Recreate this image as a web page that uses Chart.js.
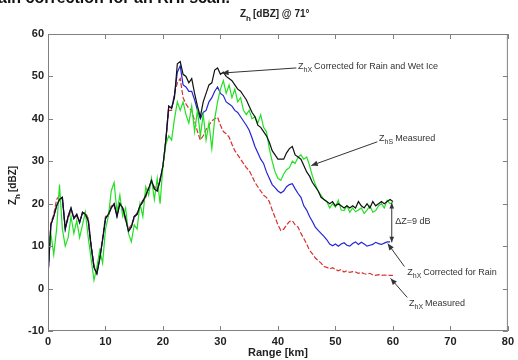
<!DOCTYPE html>
<html>
<head>
<meta charset="utf-8">
<script src="https://cdn.jsdelivr.net/npm/chart.js@4.4.1/dist/chart.umd.min.js"></script>
<style>
  body { margin: 0; background: #fff; }
  canvas { display: block; }
</style>
</head>
<body>
<canvas id="zhChart" width="518" height="360"></canvas>
<script>
// range grid in km (0.5 km steps)
const rangeKm = Array.from({ length: 121 }, (_, i) => i * 0.5);

// Zhx corrected for rain and wet ice (black)
const zhxRainIce = [
  3, 15, 17, 19.5, 21, 21.5, 14, 17, 19, 16.5, 17.5, 15.5, 18, 17.5, 16, 10, 5, 3.5, 7, 11.5,
  16.5, 17.5, 19, 20, 17, 20, 19, 16.5, 13.5, 14.5, 17, 17.5, 19.5, 20.5, 22, 23.5, 25.5, 23.5, 23, 25.5,
  29, 35, 43, 42.5, 45, 53, 53.5, 50.5, 50, 48.5, 49.5, 46, 43, 40.5, 44, 46, 48, 48.5, 51.5, 52,
  50.5, 51, 50, 49.5, 49, 48, 47, 46.5, 45.5, 44.5, 43, 41.5, 40.5, 38.5, 38, 37, 36, 34.5, 32.5, 31.5,
  30.5, 30.5, 30.5, 32, 33, 33.5, 31.5, 31, 30.5, 29, 27.5, 26.5, 25, 24, 23, 21.5, 21, 20.5, 20, 20.5,
  19.5, 20, 19.5, 19, 19.5, 19, 19.5, 19, 20.5, 19.5, 19, 20, 19, 20.5, 19.5, 20, 20.5, 20, 20.5, 21,
  20.5
];

// Zhx corrected for rain (blue)
const zhxRain = [
  3, 15, 17, 19.5, 21, 21.5, 14, 17, 19, 16.5, 17.5, 15.5, 18, 17.5, 16, 10, 5, 3.5, 7, 11.5,
  16.5, 17.5, 19, 20, 17, 20, 19, 16.5, 13.5, 14.5, 17, 17.5, 19.5, 20.5, 22, 23.5, 25.5, 23.5, 23, 25.5,
  29, 35, 43, 42.5, 45.5, 51, 52.5, 48, 47.5, 46.5, 46.5, 44.5, 42, 40, 41.5, 42, 44, 45, 46.5, 47.5,
  46, 45.5, 44, 43.5, 43, 42, 41.5, 40.5, 39.5, 38.5, 37.3, 35.5, 33.5, 32, 30.5, 29.5, 27.5, 26, 24.5, 23.8,
  23, 22.5, 23, 24, 24.5, 24.7, 23.5, 22.4, 21.5, 19.5, 18.5, 17, 15.8, 14.5, 13.7, 13, 12.3, 11.5, 10.5, 10.1,
  10.5, 10, 10.5, 10.8, 10.2, 10, 10.6, 11, 10.4, 10.9, 10.5, 10, 10.2, 10.4, 10.9, 10.6, 10.4, 10.7, 11, 11,
  null
];

// Zhx measured (red, dashed)
const zhxMeasured = [
  3, 15.5, 17.5, 21, 22, 21, 14.5, 16.5, 18.5, 17, 17, 16, 17.5, 18, 16.5, 10.5, 5.5, 4, 7.5, 12,
  17, 17, 19.5, 19.5, 17.5, 20.5, 18.5, 16, 14, 15, 16.5, 18, 19, 21, 21.5, 24, 25, 24, 23.5, 26,
  28.5, 35, 42, 42, 46, 48.5, 49.5, 45, 43.5, 42.5, 42, 39.5, 37, 35, 36, 37.5, 38.5, 39.5, 40, 40.4,
  38.5, 37, 36.5, 35.7, 34, 32.5, 31.5, 30.5, 29.5, 28.5, 27.8, 26.5, 25, 24, 23, 22, 21.5, 20.5, 18.5, 16.8,
  15, 13.7, 14, 15, 15.8, 16, 15, 14.5, 13, 11.8, 10.5, 9, 8.2, 7.2, 6.6, 6, 5.2, 5, 4.6, 4.9,
  4.5, 4.2, 4.5, 3.9, 4.2, 3.8, 4, 3.9, 3.6, 3.8, 3.5, 3.4, 3.6, 3.2, 3.1, 3.3, 3.1, 3.2, 3.1, 3.1,
  3.1
];

// Zhs measured (green)
const zhsMeasured = [
  6, 13, 8, 14, 24.5, 14, 10, 12, 17, 13, 16, 12, 15, 18, 12, 7, 2, 5, 9, 6,
  14, 17, 23, 25, 18, 22, 17, 19, 13, 11, 15, 14, 20, 17, 24, 22, 26, 21, 26, 20,
  29, 34, 36, 35, 40, 44, 42, 44, 41, 39, 43, 37, 42, 36, 41, 35, 39, 33, 40, 44,
  47, 49, 46, 48, 45, 47, 44, 45, 42, 41, 42, 40, 40.5, 39, 41, 38, 37, 33, 30, 27.5,
  26, 25.5, 27, 28, 28.5, 30, 29.5, 31, 31.5, 30.5, 31, 29, 26.5, 24.5, 23, 22, 21, 20.5, 19, 20,
  19.2, 20.8, 18.5, 18.4, 19.5, 18, 19, 18.1, 18.5, 19, 17.7, 18.5, 19.5, 18, 18.4, 19.5, 20, 19, 20.8, 20,
  20.4
];

const xTicks = [0, 10, 20, 30, 40, 50, 60, 70, 80];
const yTicks = [-10, 0, 10, 20, 30, 40, 50, 60];

function toPoints(vals) {
  return vals.map((v, i) => ({ x: rangeKm[i], y: v }));
}

const ink = '#333';

function arrowHead(ctx, x0, y0, x1, y1, size) {
  const ang = Math.atan2(y1 - y0, x1 - x0);
  ctx.beginPath();
  ctx.moveTo(x1, y1);
  ctx.lineTo(x1 - size * Math.cos(ang - 0.4), y1 - size * Math.sin(ang - 0.4));
  ctx.lineTo(x1 - size * Math.cos(ang + 0.4), y1 - size * Math.sin(ang + 0.4));
  ctx.closePath();
  ctx.fill();
}

// text with a subscript: Z + sub + rest
function subText(ctx, x, y, main, sub, rest, size, bold) {
  const w = bold ? 'bold ' : '';
  ctx.font = w + size + 'px Arial, "Liberation Sans", sans-serif';
  ctx.fillText(main, x, y);
  let cx = x + ctx.measureText(main).width;
  ctx.font = w + Math.round(size * 0.8) + 'px Arial, "Liberation Sans", sans-serif';
  ctx.fillText(sub, cx, y + size * 0.35);
  cx += ctx.measureText(sub).width + 2;
  ctx.font = w + size + 'px Arial, "Liberation Sans", sans-serif';
  ctx.fillText(rest, cx, y);
}

// labelled arrows, positioned in data units (km, dBZ)
const notes = [
  { main: 'Z', sub: 'hX', rest: 'Corrected for Rain and Wet Ice', at: [43.5, 51.7], from: [43.2, 52.0], to: [30.3, 50.8] },
  { main: 'Z', sub: 'hS', rest: 'Measured', at: [57.6, 34.8], from: [57.3, 34.6], to: [45.8, 29.0] },
  { main: 'Z', sub: 'hX', rest: 'Corrected for Rain', at: [62.5, 3.2], from: [62.0, 5.2], to: [59.1, 10.6] },
  { main: 'Z', sub: 'hX', rest: 'Measured', at: [62.8, -4.0], from: [62.5, -2.1], to: [59.6, 2.4] }
];

const decor = {
  id: 'decor',
  afterDraw(chart) {
    const { ctx, chartArea: a, scales: { x, y } } = chart;
    ctx.save();
    // frame with inward ticks
    ctx.strokeStyle = '#808080';
    ctx.lineWidth = 1;
    ctx.strokeRect(a.left + 0.5, a.top + 0.5, a.right - a.left - 1, a.bottom - a.top - 1);
    ctx.beginPath();
    xTicks.forEach(v => {
      const px = Math.round(x.getPixelForValue(v)) + 0.5;
      ctx.moveTo(px, a.bottom); ctx.lineTo(px, a.bottom - 5);
      ctx.moveTo(px, a.top); ctx.lineTo(px, a.top + 5);
    });
    yTicks.forEach(v => {
      const py = Math.round(y.getPixelForValue(v)) + 0.5;
      ctx.moveTo(a.left, py); ctx.lineTo(a.left + 5, py);
      ctx.moveTo(a.right, py); ctx.lineTo(a.right - 5, py);
    });
    ctx.stroke();

    // cut-off caption above the figure
    ctx.fillStyle = '#111';
    ctx.font = 'bold 16px Arial, "Liberation Sans", sans-serif';
    ctx.textBaseline = 'alphabetic';
    ctx.fillText('ain correction for an RHI scan.', -2, 3);

    // title
    ctx.fillStyle = '#222';
    subText(ctx, 240, 17, 'Z', 'h', '[dBZ] @ 71\u00b0', 10, true);

    // y axis title (rotated)
    ctx.save();
    ctx.translate(16, 205);
    ctx.rotate(-Math.PI / 2);
    subText(ctx, 0, 0, 'Z', 'h', '[dBZ]', 10, true);
    ctx.restore();

    // x axis title
    ctx.font = 'bold 11px Arial, "Liberation Sans", sans-serif';
    ctx.textAlign = 'center';
    ctx.fillText('Range [km]', (a.left + a.right) / 2, 356);
    ctx.textAlign = 'left';

    // annotation arrows
    ctx.strokeStyle = ink;
    ctx.fillStyle = ink;
    notes.forEach(n => {
      const fx = x.getPixelForValue(n.from[0]), fy = y.getPixelForValue(n.from[1]);
      const tx = x.getPixelForValue(n.to[0]), ty = y.getPixelForValue(n.to[1]);
      ctx.beginPath(); ctx.moveTo(fx, fy); ctx.lineTo(tx, ty); ctx.stroke();
      arrowHead(ctx, fx, fy, tx, ty, 7);
      subText(ctx, x.getPixelForValue(n.at[0]), y.getPixelForValue(n.at[1]), n.main, n.sub, n.rest, 9, false);
    });

    // delta Z double arrow
    const dx = x.getPixelForValue(59.8);
    const dTop = y.getPixelForValue(20.2), dBot = y.getPixelForValue(10.9);
    ctx.beginPath(); ctx.moveTo(dx, dTop); ctx.lineTo(dx, dBot); ctx.stroke();
    arrowHead(ctx, dx, dBot, dx, dTop, 6);
    arrowHead(ctx, dx, dTop, dx, dBot, 6);
    ctx.font = '9px Arial, "Liberation Sans", sans-serif';
    ctx.fillText('\u0394Z=9 dB', x.getPixelForValue(60.4), y.getPixelForValue(15.3));
    ctx.restore();
  }
};

const ctx = document.getElementById('zhChart').getContext('2d');

const tickFont = { family: 'Arial, "Liberation Sans", sans-serif', size: 11, weight: 'bold' };

new Chart(ctx, {
  type: 'line',
  data: {
    datasets: [
      { label: 'Zhx corrected for rain and wet ice', data: toPoints(zhxRainIce), borderColor: '#111111', borderWidth: 1.2 },
      { label: 'Zhs measured', data: toPoints(zhsMeasured), borderColor: '#22e022', borderWidth: 1.2 },
      { label: 'Zhx corrected for rain', data: toPoints(zhxRain), borderColor: '#2424d8', borderWidth: 1.2 },
      { label: 'Zhx measured', data: toPoints(zhxMeasured), borderColor: '#d83030', borderWidth: 1.2, borderDash: [5, 2] }
    ]
  },
  options: {
    responsive: false,
    animation: false,
    layout: { padding: { top: 34, right: 6, left: 0, bottom: 0 } },
    elements: { point: { radius: 0 }, line: { tension: 0 } },
    plugins: { legend: { display: false }, tooltip: { enabled: false } },
    scales: {
      x: {
        type: 'linear',
        min: 0, max: 80,
        afterFit: s => { s.height = 29; },
        afterBuildTicks: s => { s.ticks = xTicks.map(v => ({ value: v })); },
        grid: { display: false, drawTicks: false },
        border: { display: false },
        ticks: { color: '#222', font: tickFont, padding: 4, maxRotation: 0 }
      },
      y: {
        min: -10, max: 60,
        afterFit: s => { s.width = 48; },
        afterBuildTicks: s => { s.ticks = yTicks.map(v => ({ value: v })); },
        grid: { display: false, drawTicks: false },
        border: { display: false },
        ticks: { color: '#222', font: tickFont, padding: 4 }
      }
    }
  },
  plugins: [decor]
});
</script>
</body>
</html>
